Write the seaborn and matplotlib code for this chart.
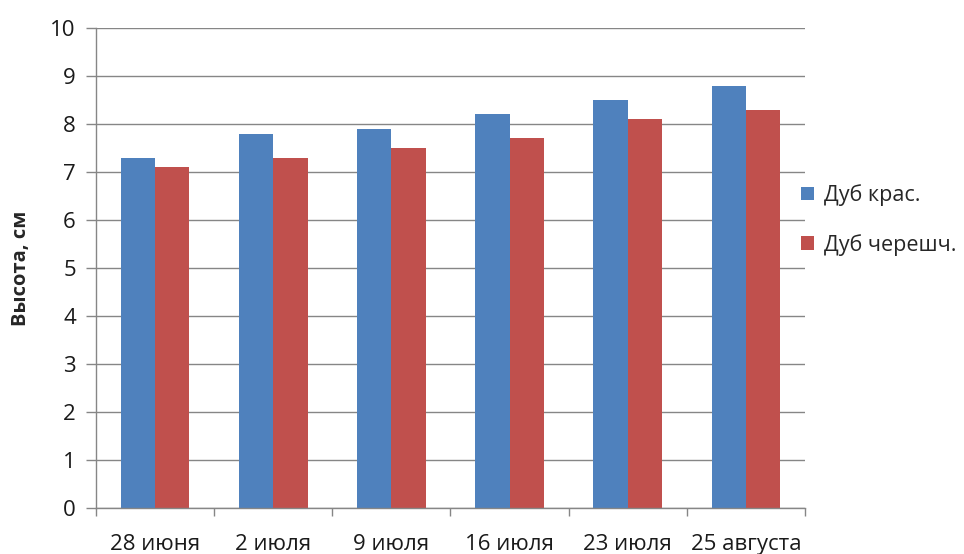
import matplotlib
matplotlib.use("Agg")
import matplotlib.pyplot as plt
from matplotlib.patches import Patch
import seaborn as sns
import pandas as pd

dates = ["28 июня", "2 июля", "9 июля", "16 июля", "23 июля", "25 августа"]
series_names = ["Дуб крас.", "Дуб черешч."]
red_oak = [7.3, 7.8, 7.9, 8.2, 8.5, 8.8]
english_oak = [7.1, 7.3, 7.5, 7.7, 8.1, 8.3]
colors = ["#4F81BD", "#C0504D"]

df = pd.DataFrame({
    "date": dates * 2,
    "height": red_oak + english_oak,
    "species": [series_names[0]] * len(dates) + [series_names[1]] * len(dates),
})

sns.set_style("white")
plt.rcParams["font.family"] = ["Open Sans", "DejaVu Sans"]

fig = plt.figure(figsize=(9.64, 5.54), dpi=100)
ax = fig.add_axes([0.0996, 0.083, 0.7354, 0.8665])

sns.barplot(data=df, x="date", y="height", hue="species", order=dates,
            hue_order=series_names, palette=colors, width=0.58, gap=0,
            saturation=1, ax=ax, legend=False, linewidth=0)

ax.set_ylim(0, 10)
ax.set_xlim(-0.5, len(dates) - 0.5)
ax.set_yticks(range(0, 11))
ax.yaxis.grid(True, color="#868686", linewidth=1)
ax.set_axisbelow(True)

for side in ["top", "right"]:
    ax.spines[side].set_visible(False)
for side in ["left", "bottom"]:
    ax.spines[side].set_color("#868686")
    ax.spines[side].set_linewidth(1)

ax.tick_params(axis="y", which="major", length=7.5, width=1, color="#868686",
               labelsize=16, pad=7, left=True, labelcolor="#1a1a1a")
ax.tick_params(axis="x", which="major", length=0, labelsize=16, pad=19,
               labelcolor="#1a1a1a")
ax.set_xticks([i - 0.5 for i in range(len(dates) + 1)], minor=True)
ax.tick_params(axis="x", which="minor", length=6, width=1, color="#868686",
               bottom=True)

ax.set_xlabel("")
ax.set_ylabel("Высота, см", fontsize=14.5, fontweight="bold", labelpad=14)

handles = [Patch(facecolor=c, edgecolor="none") for c in colors]
ax.legend(handles, series_names, loc="center left", bbox_to_anchor=(0.967, 0.60),
          frameon=False, fontsize=15.5, handlelength=0.6, handleheight=0.6,
          handletextpad=0.45, labelspacing=1.3)

fig.savefig("out.png", dpi=100, facecolor="white")
